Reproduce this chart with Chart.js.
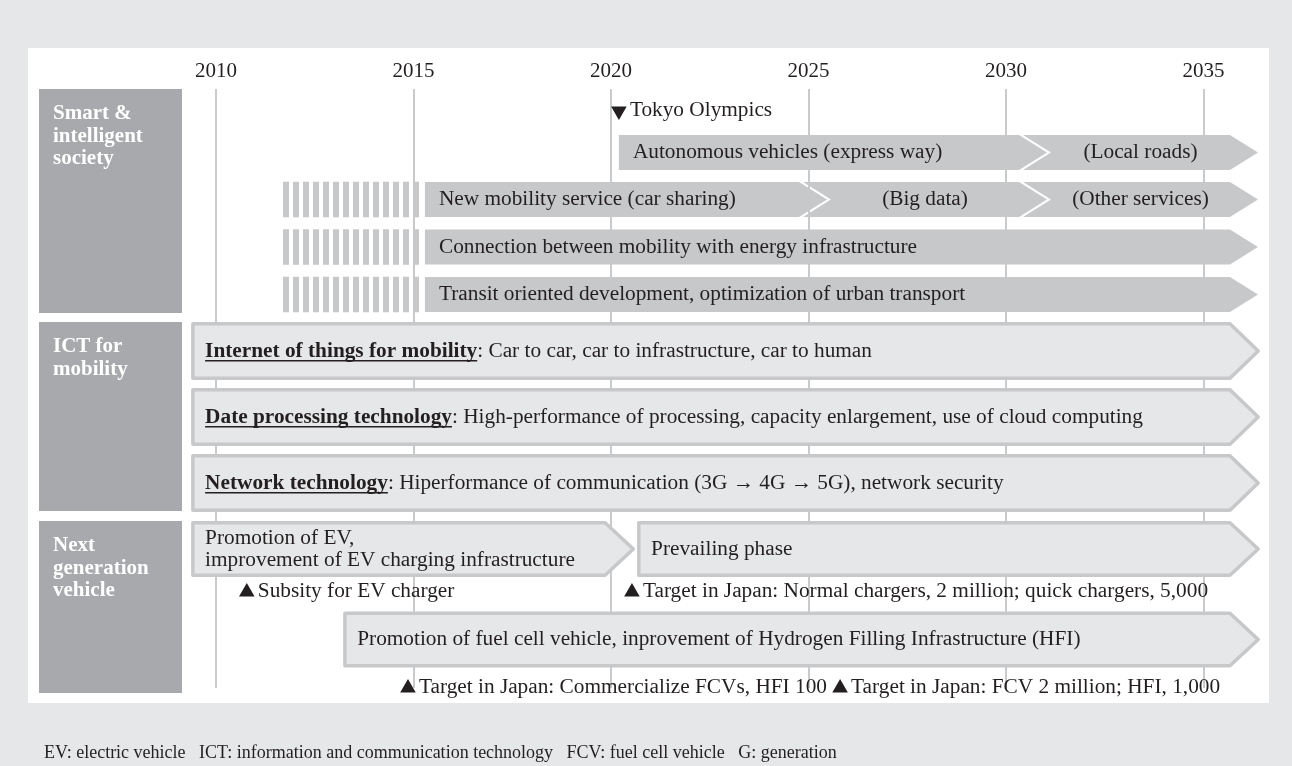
<!DOCTYPE html>
<html>
<head>
<meta charset="utf-8">
<script src="https://cdn.jsdelivr.net/npm/chart.js@4.4.1/dist/chart.umd.min.js"></script>
<style>
  html, body { margin: 0; padding: 0; background: #e6e7e8; }
  #wrap { width: 1292px; height: 766px; }
</style>
</head>
<body>
<div id="wrap"><canvas id="roadmap" width="1292" height="766"></canvas></div>
<script>
const yearTicks = [2010, 2015, 2020, 2025, 2030, 2035];
const groupNames = [['Smart &', 'intelligent', 'society'], ['ICT for', 'mobility'], ['Next', 'generation', 'vehicle']];

// Smart & intelligent society: solid grey phases
const phaseLabels = [
  'Autonomous vehicles (express way)', '(Local roads)',
  'New mobility service (car sharing)', '(Big data)', '(Other services)',
  'Connection between mobility with energy infrastructure',
  'Transit oriented development, optimization of urban transport'
];
const phaseStart = [2020.2, 2030.43, 2015.29, 2024.86, 2030.43, 2015.29, 2015.29];
const phaseEnd = [2030.33, 2035.67, 2024.76, 2030.33, 2035.67, 2035.67, 2035.67];
const phaseLane = [1, 1, 2, 2, 2, 3, 4];

// hatched lead-in phases
const prepStart = [2011.7, 2011.7, 2011.7];
const prepEnd = [2015.19, 2015.19, 2015.19];
const prepLane = [2, 3, 4];

// ICT for mobility
const ictTitles = ['Internet of things for mobility', 'Date processing technology', 'Network technology'];
const ictTexts = [
  ': Car to car, car to infrastructure, car to human',
  ': High-performance of processing, capacity enlargement, use of cloud computing',
  ': Hiperformance of communication (3G \u2192 4G \u2192 5G), network security'
];
const ictStart = [2009.37, 2009.37, 2009.37];
const ictEnd = [2035.67, 2035.67, 2035.67];
const ictLane = [5, 6, 7];

// Next generation vehicle
const vehLabels = [
  ['Promotion of EV,', 'improvement of EV charging infrastructure'],
  ['Prevailing phase'],
  ['Promotion of fuel cell vehicle, inprovement of Hydrogen Filling Infrastructure (HFI)']
];
const vehStart = [2009.37, 2020.66, 2013.22];
const vehEnd = [2019.85, 2035.67, 2035.67];
const vehLane = [8, 8, 10];

// milestones
const mileLabels = [
  'Tokyo Olympics',
  'Subsity for EV charger',
  'Target in Japan: Normal chargers, 2 million; quick chargers, 5,000',
  'Target in Japan: Commercialize FCVs, HFI 100',
  'Target in Japan: FCV 2 million; HFI, 1,000'
];
const mileYear = [2020.2, 2010.78, 2020.53, 2014.86, 2025.8];
const mileLane = [0, 9, 9, 11, 11];
const mileDown = [true, false, false, false, false];

const footnote = 'EV: electric vehicle   ICT: information and communication technology   FCV: fuel cell vehicle   G: generation';

// ---- layout (y units = px below chart top) ----
const laneCenter = [22, 63.5, 110.5, 158, 205.5, 262, 328, 394, 460, 503, 550.5, 599];
const groupSpan = [[0, 224], [233, 422], [432, 604]];

const SERIF = '"Liberation Serif", "Times New Roman", serif';
const TEXT = '21.3px ' + SERIF;
const INK = '#231f20';
const BAR = '#c7c8ca';
const PALE = '#e6e7e8';

function stripes() {
  const c = document.createElement('canvas');
  c.width = 10; c.height = 10;
  const g = c.getContext('2d');
  g.fillStyle = BAR;
  g.fillRect(0, 0, 6, 10);
  const p = g.createPattern(c, 'repeat');
  p.setTransform(new DOMMatrix([1, 0, 0, 1, 3, 0]));
  return p;
}

const toBars = (s, e, lane) => s.map((v, i) => ({ x: [v, e[i]], y: laneCenter[lane[i]] }));

function arrowPath(ctx, x0, x1, yc, h, tip, notch) {
  const top = yc - h / 2, bot = yc + h / 2;
  ctx.beginPath();
  ctx.moveTo(x0, top);
  ctx.lineTo(x1, top);
  ctx.lineTo(x1 + tip, yc);
  ctx.lineTo(x1, bot);
  ctx.lineTo(x0, bot);
  if (notch) ctx.lineTo(x0 + tip, yc);
  ctx.closePath();
}

const geom = (el) => {
  const p = el.getProps(['x', 'y', 'base', 'height'], true);
  return { x0: Math.min(p.x, p.base), x1: Math.max(p.x, p.base), y: p.y, h: p.height };
};

const roadmapPlugin = {
  id: 'roadmap',
  beforeDraw(chart) {
    const { ctx } = chart;
    ctx.save();
    ctx.fillStyle = PALE;
    ctx.fillRect(0, 0, chart.width, chart.height);
    ctx.fillStyle = '#ffffff';
    ctx.fillRect(28, 48, 1241, 655);
    ctx.fillStyle = INK;
    ctx.font = '18px ' + SERIF;
    ctx.textBaseline = 'middle';
    ctx.fillText(footnote, 44, 753);
    ctx.restore();
  },
  afterDatasetsDraw(chart) {
    const { ctx } = chart;
    const ys = chart.scales.y;
    ctx.save();

    // group header boxes
    groupSpan.forEach((span, i) => {
      const t = ys.getPixelForValue(span[0]);
      const b = ys.getPixelForValue(span[1]);
      ctx.fillStyle = '#a7a9ac';
      ctx.fillRect(39, t, 143, b - t);
      ctx.fillStyle = '#ffffff';
      ctx.font = 'bold 21px ' + SERIF;
      ctx.textBaseline = 'middle';
      groupNames[i].forEach((ln, k) => ctx.fillText(ln, 53, t + 25 + k * 22.5));
    });

    ctx.textBaseline = 'middle';
    ctx.font = TEXT;

    // solid chevrons
    chart.getDatasetMeta(1).data.forEach((el, i) => {
      const g = geom(el);
      const notch = phaseLane.slice(0, i).includes(phaseLane[i]);
      ctx.fillStyle = BAR;
      arrowPath(ctx, g.x0, g.x1, g.y, g.h, 28, notch);
      ctx.fill();
      ctx.fillStyle = INK;
      if (notch) {
        ctx.textAlign = 'center';
        ctx.fillText(phaseLabels[i], (g.x0 + 28 + g.x1) / 2, g.y);
      } else {
        ctx.textAlign = 'left';
        ctx.fillText(phaseLabels[i], g.x0 + 14, g.y);
      }
    });
    ctx.textAlign = 'left';

    const outlined = (g) => {
      const lw = 3.5;
      ctx.fillStyle = PALE;
      ctx.strokeStyle = BAR;
      ctx.lineWidth = lw;
      ctx.lineJoin = 'round';
      arrowPath(ctx, g.x0 + lw / 2, g.x1, g.y, g.h - lw, 30 - lw / 2, false);
      ctx.fill();
      ctx.stroke();
    };

    // ICT streams
    chart.getDatasetMeta(2).data.forEach((el, i) => {
      const g = geom(el);
      outlined(g);
      const tx = g.x0 + 14;
      ctx.fillStyle = INK;
      ctx.font = 'bold 21.3px ' + SERIF;
      ctx.fillText(ictTitles[i], tx, g.y);
      const w = ctx.measureText(ictTitles[i]).width;
      ctx.fillRect(tx, g.y + 9, w, 1.5);
      ctx.font = TEXT;
      ctx.fillText(ictTexts[i], tx + w, g.y);
    });

    // next generation vehicle
    chart.getDatasetMeta(3).data.forEach((el, i) => {
      const g = geom(el);
      outlined(g);
      ctx.fillStyle = INK;
      const lines = vehLabels[i];
      lines.forEach((ln, k) => {
        ctx.fillText(ln, g.x0 + 14, g.y + (k - (lines.length - 1) / 2) * 22);
      });
    });

    // milestone captions
    chart.getDatasetMeta(4).data.forEach((el, i) => {
      ctx.fillStyle = INK;
      ctx.fillText(mileLabels[i], el.x + 11, el.y - 1);
    });

    ctx.restore();
  }
};

const chart = new Chart(document.getElementById('roadmap'), {
  type: 'bar',
  data: {
    datasets: [
      {
        label: 'lead-in',
        data: toBars(prepStart, prepEnd, prepLane),
        backgroundColor: stripes(),
        borderWidth: 0,
        barThickness: 35,
        grouped: false
      },
      {
        label: 'phases',
        data: toBars(phaseStart, phaseEnd, phaseLane),
        backgroundColor: 'rgba(0,0,0,0)',
        barThickness: 35,
        grouped: false
      },
      {
        label: 'ict',
        data: toBars(ictStart, ictEnd, ictLane),
        backgroundColor: 'rgba(0,0,0,0)',
        barThickness: 58,
        grouped: false
      },
      {
        label: 'vehicle',
        data: toBars(vehStart, vehEnd, vehLane),
        backgroundColor: 'rgba(0,0,0,0)',
        barThickness: 56,
        grouped: false
      },
      {
        type: 'scatter',
        label: 'milestones',
        data: mileYear.map((v, i) => ({ x: v, y: laneCenter[mileLane[i]] })),
        pointStyle: 'triangle',
        pointRadius: 9,
        pointBorderWidth: 0,
        pointBackgroundColor: INK,
        pointRotation: mileDown.map(d => (d ? 180 : 0)),
        clip: false
      }
    ]
  },
  options: {
    indexAxis: 'y',
    responsive: false,
    animation: false,
    events: [],
    layout: { padding: { left: 176.5, right: 9.5, top: 49, bottom: 78 } },
    plugins: { legend: { display: false }, tooltip: { enabled: false } },
    scales: {
      x: {
        type: 'linear',
        position: 'top',
        offset: false,
        min: 2009,
        max: 2037,
        afterBuildTicks: (axis) => { axis.ticks = yearTicks.map(v => ({ value: v })); },
        afterFit: (axis) => { axis.height = 40; },
        grid: { color: '#c9cacc', lineWidth: 2, drawTicks: false, offset: false },
        border: { display: false },
        ticks: {
          padding: 5,
          color: INK,
          font: { family: SERIF, size: 21 },
          callback: v => String(v)
        }
      },
      y: {
        type: 'linear',
        display: false,
        offset: false,
        reverse: true,
        min: 0,
        max: 599
      }
    }
  },
  plugins: [roadmapPlugin]
});
</script>
</body>
</html>
